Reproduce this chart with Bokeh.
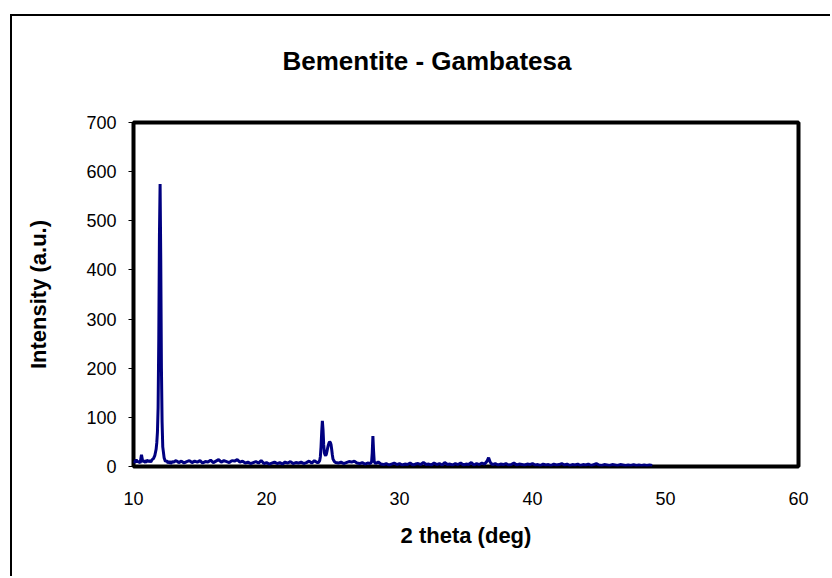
from bokeh.plotting import figure
from bokeh.models import Range1d, FixedTicker, Title
from bokeh.embed import file_html
from bokeh.resources import INLINE

title_text = "Bementite - Gambatesa"
x_label = "2 theta (deg)"
y_label = "Intensity (a.u.)"
x_ticks = [10, 20, 30, 40, 50, 60]
y_ticks = [0, 100, 200, 300, 400, 500, 600, 700]

# segment 1: 10 - 13 deg (main reflection at ~12 deg)
seg1_x = [10.0, 10.1, 10.2, 10.3, 10.4, 10.5, 10.6, 10.7, 10.8, 10.9, 11.0, 11.1, 11.2,
          11.3, 11.4, 11.5, 11.6, 11.7, 11.75, 11.8, 11.85, 11.9, 11.95, 12.0, 12.05,
          12.1, 12.15, 12.2, 12.3, 12.4, 12.5, 12.6, 12.7, 12.8, 12.9]
seg1_y = [12, 8, 14, 9, 11, 7, 24, 9, 12, 8, 13, 10, 12,
          9, 14, 16, 22, 35, 48, 70, 120, 260, 470, 575, 420,
          200, 90, 40, 18, 10, 12, 7, 11, 6, 10]

# segment 2: 13 - 23.8 deg background
seg2_x = [13.0, 13.2, 13.4, 13.6, 13.8, 14.0, 14.2, 14.4, 14.6, 14.8, 15.0, 15.2, 15.4,
          15.6, 15.8, 16.0, 16.2, 16.4, 16.6, 16.8, 17.0, 17.2, 17.4, 17.6, 17.8, 18.0,
          18.2, 18.4, 18.6, 18.8, 19.0, 19.2, 19.4, 19.6, 19.8, 20.0, 20.2, 20.4, 20.6,
          20.8, 21.0, 21.2, 21.4, 21.6, 21.8, 22.0, 22.2, 22.4, 22.6, 22.8, 23.0, 23.2,
          23.4, 23.6, 23.8]
seg2_y = [9, 12, 8, 11, 7, 10, 12, 8, 11, 9, 12, 7, 10,
          9, 13, 8, 11, 14, 9, 12, 10, 8, 12, 11, 14, 9,
          11, 7, 9, 6, 8, 10, 7, 12, 6, 8, 5, 7, 9,
          6, 8, 5, 9, 7, 10, 6, 8, 7, 9, 6, 8, 11,
          7, 12, 8]

# segment 3: 23.9 - 25.1 deg double reflection
seg3_x = [23.9, 24.0, 24.05, 24.1, 24.15, 24.2, 24.25, 24.3, 24.35, 24.4, 24.45, 24.5,
          24.55, 24.6, 24.65, 24.7, 24.75, 24.8, 24.85, 24.9, 24.95, 25.0, 25.1]
seg3_y = [8, 12, 20, 40, 70, 93, 75, 45, 28, 24, 22, 25,
          31, 38, 44, 48, 50, 49, 45, 35, 24, 15, 10]

# segment 4: 25.2 - 28.2 deg
seg4_x = [25.2, 25.4, 25.6, 25.8, 26.0, 26.2, 26.4, 26.6, 26.8, 27.0, 27.2, 27.4, 27.6,
          27.8, 27.9, 27.95, 28.0, 28.05, 28.1, 28.2]
seg4_y = [8, 7, 9, 6, 8, 10, 9, 11, 7, 6, 8, 5, 7,
          6, 9, 28, 62, 32, 10, 6]

# segment 5: 28.4 - 37.0 deg
seg5_x = [28.4, 28.6, 28.8, 29.0, 29.2, 29.4, 29.6, 29.8, 30.0, 30.2, 30.4, 30.6, 30.8,
          31.0, 31.2, 31.4, 31.6, 31.8, 32.0, 32.2, 32.4, 32.6, 32.8, 33.0, 33.2, 33.4,
          33.6, 33.8, 34.0, 34.2, 34.4, 34.6, 34.8, 35.0, 35.2, 35.4, 35.6, 35.8, 36.0,
          36.2, 36.4, 36.5, 36.6, 36.7, 36.8, 36.9, 37.0]
seg5_y = [9, 5, 4, 6, 3, 5, 7, 4, 6, 3, 5, 4, 7,
          3, 5, 6, 4, 8, 4, 5, 3, 7, 4, 6, 3, 8,
          4, 5, 3, 6, 4, 7, 3, 5, 4, 8, 3, 6, 4,
          7, 5, 8, 12, 18, 10, 6, 4]

# segment 6: 37.2 - 49.0 deg
seg6_x = [37.2, 37.4, 37.6, 37.8, 38.0, 38.2, 38.4, 38.6, 38.8, 39.0, 39.2, 39.4, 39.6,
          39.8, 40.0, 40.2, 40.4, 40.6, 40.8, 41.0, 41.2, 41.4, 41.6, 41.8, 42.0, 42.2,
          42.4, 42.6, 42.8, 43.0, 43.2, 43.4, 43.6, 43.8, 44.0, 44.2, 44.4, 44.6, 44.8,
          45.0, 45.2, 45.4, 45.6, 45.8, 46.0, 46.2, 46.4, 46.6, 46.8, 47.0, 47.2, 47.4,
          47.6, 47.8, 48.0, 48.2, 48.4, 48.6, 48.8, 49.0]
seg6_y = [6, 3, 5, 4, 6, 3, 4, 7, 3, 5, 4, 3, 5,
          4, 6, 3, 4, 2, 5, 3, 4, 2, 5, 3, 4, 6,
          3, 5, 2, 4, 3, 5, 2, 4, 3, 5, 2, 4, 6,
          3, 2, 4, 3, 2, 4, 3, 2, 4, 3, 2, 3, 2,
          4, 2, 3, 2, 3, 2, 3, 2]

two_theta = seg1_x + seg2_x + seg3_x + seg4_x + seg5_x + seg6_x
intensity = seg1_y + seg2_y + seg3_y + seg4_y + seg5_y + seg6_y

FONT = "Liberation Sans"

p = figure(width=820, height=562, output_backend="svg", toolbar_location=None,
           x_range=Range1d(10, 60), y_range=Range1d(0, 700),
           min_border_left=121, min_border_right=34, min_border_top=106,
           min_border_bottom=112)

# outer chart border (left and top edges; right/bottom run off the page)
p.styles = {"margin-left": "10px", "margin-top": "14px",
            "border-left": "2px solid black", "border-top": "2px solid black"}

p.line(two_theta, intensity, line_color="#000080", line_width=3)

# frame
p.outline_line_color = "black"
p.outline_line_width = 4
p.xgrid.visible = False
p.ygrid.visible = False
p.background_fill_color = "white"
p.border_fill_color = "white"

# title (plus an empty spacer between it and the frame)
p.title.text = title_text
p.title.text_font = FONT
p.title.text_font_size = "26px"
p.title.text_font_style = "bold"
p.title.text_color = "black"
p.title.align = "left"
p.title.offset = 149
p.title.standoff = 0
p.add_layout(Title(text=" ", text_font_size="10px", standoff=34), "above")

# x axis
xa = p.xaxis[0]
xa.ticker = FixedTicker(ticks=x_ticks)
xa.axis_line_color = None
xa.major_tick_line_color = None
xa.major_tick_out = 0
xa.major_tick_in = 0
xa.minor_tick_line_color = None
xa.major_label_text_font = FONT
xa.major_label_text_font_size = "18px"
xa.major_label_text_color = "black"
xa.major_label_standoff = 25
xa.axis_label = x_label
xa.axis_label_text_font = FONT
xa.axis_label_text_font_size = "22px"
xa.axis_label_text_font_style = "bold"
xa.axis_label_text_color = "black"
xa.axis_label_standoff = 15

# y axis
ya = p.yaxis[0]
ya.ticker = FixedTicker(ticks=y_ticks)
ya.axis_line_color = None
ya.major_tick_line_color = "black"
ya.major_tick_out = 5
ya.major_tick_in = 0
ya.minor_tick_line_color = None
ya.major_label_text_font = FONT
ya.major_label_text_font_size = "18px"
ya.major_label_text_color = "black"
ya.major_label_standoff = 12
ya.axis_label = y_label
ya.axis_label_text_font = FONT
ya.axis_label_text_font_size = "22px"
ya.axis_label_text_font_style = "bold"
ya.axis_label_text_color = "black"
ya.axis_label_standoff = 32

open("out.html", "w").write(file_html(p, INLINE))
